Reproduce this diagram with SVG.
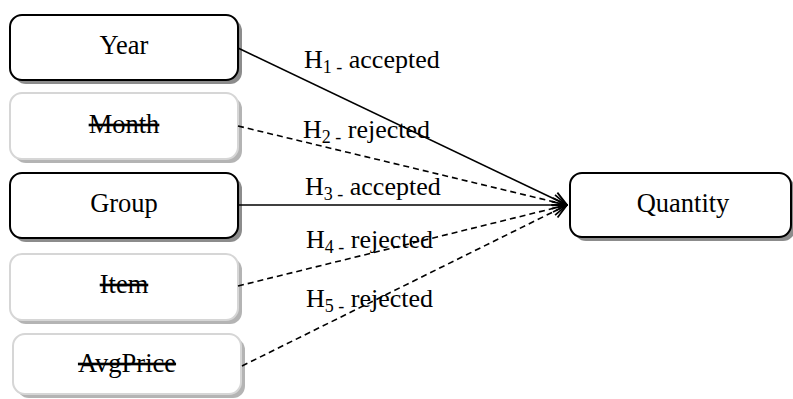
<svg xmlns="http://www.w3.org/2000/svg" width="793" height="399" viewBox="0 0 793 399">
  <style>
    .box { fill: #ffffff; stroke: #000000; stroke-width: 2; }
    .box.off { stroke: #d6d6d6; }
    .shadow { fill: #8c8c8c; }
    .shadow.off { fill: #b4b4b4; }
    .lbl { font-family: "Liberation Serif", "Times New Roman", serif; font-size: 26.5px; fill: #000; text-anchor: middle; }
    .lbl.struck { text-decoration: line-through; }
    .hyp { font-family: "Liberation Serif", "Times New Roman", serif; font-size: 26px; fill: #000; }
    .sub { font-size: 18px; }
    .edge { fill: none; stroke: #000; stroke-width: 1.6; marker-end: url(#open); }
    .edge.dash { stroke-dasharray: 6 4; }
  </style>
  <defs>
    <marker id="open" viewBox="0 0 16 16" refX="15" refY="8" markerWidth="16" markerHeight="16" markerUnits="userSpaceOnUse" orient="auto">
      <polyline points="1,1 15,8 1,15" fill="none" stroke="#000" stroke-width="1.8"/>
    </marker>
  </defs>

  <!-- predictor boxes -->
  <g id="year">
    <rect class="shadow" x="14" y="19" width="228" height="65" rx="12"/>
    <rect class="box" x="10" y="15" width="228" height="65" rx="12"/>
    <text class="lbl" x="124" y="54">Year</text>
  </g>
  <g id="month">
    <rect class="shadow off" x="14" y="97" width="228" height="66" rx="12"/>
    <rect class="box off" x="10" y="93" width="228" height="66" rx="12"/>
    <text class="lbl struck" x="124" y="133">Month</text>
  </g>
  <g id="group">
    <rect class="shadow" x="14" y="177" width="228" height="65" rx="12"/>
    <rect class="box" x="10" y="173" width="228" height="65" rx="12"/>
    <text class="lbl" x="124" y="212">Group</text>
  </g>
  <g id="item">
    <rect class="shadow off" x="14" y="258" width="228" height="66" rx="12"/>
    <rect class="box off" x="10" y="254" width="228" height="66" rx="12"/>
    <text class="lbl struck" x="124" y="293">Item</text>
  </g>
  <g id="avgprice">
    <rect class="shadow off" x="17" y="338" width="228" height="60" rx="12"/>
    <rect class="box off" x="13" y="334" width="228" height="60" rx="12"/>
    <text class="lbl struck" x="127" y="372">AvgPrice</text>
  </g>

  <!-- outcome box -->
  <g id="quantity">
    <rect class="shadow" x="574" y="177" width="221" height="64" rx="12"/>
    <rect class="box" x="570" y="173" width="221" height="64" rx="12"/>
    <text class="lbl" x="683" y="212">Quantity</text>
  </g>

  <!-- hypothesis paths -->
  <g id="connectors">
    <line class="edge" x1="238" y1="48" x2="567" y2="205"/>
    <line class="edge dash" x1="238" y1="126" x2="567" y2="205"/>
    <line class="edge" x1="238" y1="205" x2="567" y2="205"/>
    <line class="edge dash" x1="238" y1="286" x2="567" y2="205"/>
    <line class="edge dash" x1="242" y1="366" x2="567" y2="205"/>
  </g>

  <!-- hypothesis labels -->
  <g id="labels">
    <text class="hyp" x="304" y="68">H<tspan class="sub" dy="5">1 -</tspan><tspan dy="-5"> accepted</tspan></text>
    <text class="hyp" x="303" y="138">H<tspan class="sub" dy="5">2 -</tspan><tspan dy="-5"> rejected</tspan></text>
    <text class="hyp" x="305" y="195">H<tspan class="sub" dy="5">3 -</tspan><tspan dy="-5"> accepted</tspan></text>
    <text class="hyp" x="306" y="248">H<tspan class="sub" dy="5">4 -</tspan><tspan dy="-5"> rejected</tspan></text>
    <text class="hyp" x="306" y="307">H<tspan class="sub" dy="5">5 -</tspan><tspan dy="-5"> rejected</tspan></text>
  </g>
</svg>
